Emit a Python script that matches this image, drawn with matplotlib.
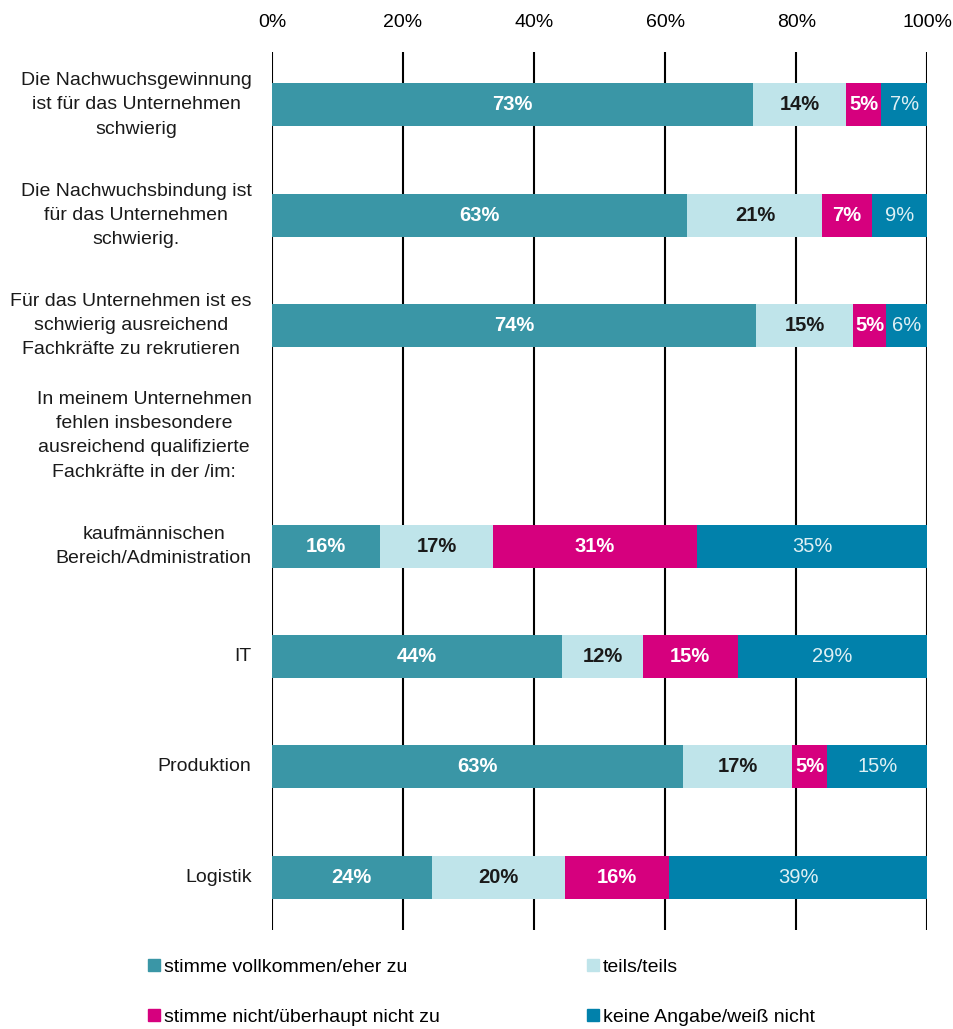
import matplotlib
matplotlib.use("Agg")
import matplotlib.pyplot as plt
from matplotlib.patches import Patch

plt.rcParams['font.family'] = ['Liberation Sans', 'DejaVu Sans']

# rows from top to bottom; empty row is the heading for the last block
categories = [
    "Die Nachwuchsgewinnung\nist für das Unternehmen\nschwierig",
    "Die Nachwuchsbindung ist\nfür das Unternehmen\nschwierig.",
    "Für das Unternehmen ist es\nschwierig ausreichend\nFachkräfte zu rekrutieren",
    "In meinem Unternehmen\nfehlen insbesondere\nausreichend qualifizierte\nFachkräfte in der /im:",
    "kaufmännischen\nBereich/Administration",
    "IT",
    "Produktion",
    "Logistik",
]
has_bar = [True, True, True, False, True, True, True, True]

# bar lengths (percent)
zustimmung = [73.4, 63.4, 73.9, 0, 16.5, 44.3, 62.7, 24.4]
teils = [14.2, 20.6, 14.8, 0, 17.2, 12.3, 16.7, 20.3]
ablehnung = [5.4, 7.5, 5.0, 0, 31.2, 14.5, 5.3, 15.9]
keine_angabe = [7.0, 8.5, 6.3, 0, 35.1, 28.9, 15.3, 39.4]

# printed labels
lbl_zustimmung = ["73%", "63%", "74%", "", "16%", "44%", "63%", "24%"]
lbl_teils = ["14%", "21%", "15%", "", "17%", "12%", "17%", "20%"]
lbl_ablehnung = ["5%", "7%", "5%", "", "31%", "15%", "5%", "16%"]
lbl_keine = ["7%", "9%", "6%", "", "35%", "29%", "15%", "39%"]

series_names = ["stimme vollkommen/eher zu", "teils/teils",
                "stimme nicht/überhaupt nicht zu", "keine Angabe/weiß nicht"]
xticks = [0, 20, 40, 60, 80, 100]

colors = ["#3a96a6", "#bfe4ea", "#d6007e", "#0181ab"]
text_styles = [("white", "bold"), ("#1a1a1a", "bold"), ("white", "bold"), ("#dff0f4", "normal")]

fig = plt.figure(figsize=(9.54, 10.29), dpi=100)
ax = fig.add_axes([0.285, 0.0962, 0.687, 0.8533])

y = list(range(len(categories)))
series = [zustimmung, teils, ablehnung, keine_angabe]
labels = [lbl_zustimmung, lbl_teils, lbl_ablehnung, lbl_keine]

left = [0.0] * len(y)
for vals, lbls, col, (tc, tw) in zip(series, labels, colors, text_styles):
    bars = ax.barh(y, vals, left=left, height=0.39, color=col, zorder=2)
    for b, l, hb in zip(bars, lbls, has_bar):
        if not hb:
            continue
        ax.text(b.get_x() + b.get_width() / 2, b.get_y() + b.get_height() / 2, l,
                ha='center', va='center', color=tc, fontweight=tw, fontsize=14.5, zorder=3)
    left = [a + b for a, b in zip(left, vals)]

# vertical gridlines in black
for t in xticks:
    ax.axvline(t, color='black', linewidth=1.5, zorder=1)

ax.set_xlim(0, 100)
ax.set_ylim(len(y) - 0.52, -0.48)
ax.xaxis.tick_top()
ax.set_xticks(xticks)
ax.set_xticklabels([f"{t}%" for t in xticks], fontsize=14)
ax.tick_params(axis='x', length=0, pad=15)
ax.set_yticks([])
for s in ax.spines.values():
    s.set_visible(False)

# category labels, right aligned block with centered lines
for yi, cat in zip(y, categories):
    ax.text(-3.1, yi, cat, ha='right', va='center', multialignment='center',
            fontsize=14, color='#1a1a1a', linespacing=1.55)

handles = [Patch(color=colors[i]) for i in (0, 2, 1, 3)]
names = [series_names[i] for i in (0, 2, 1, 3)]
fig.legend(handles, names, loc='upper left', bbox_to_anchor=(0.137, 0.085), ncol=2,
           frameon=False, fontsize=14, handlelength=0.6, handleheight=0.6,
           handletextpad=0.2, columnspacing=7.6, labelspacing=1.7)

fig.savefig("out.png", dpi=100)
